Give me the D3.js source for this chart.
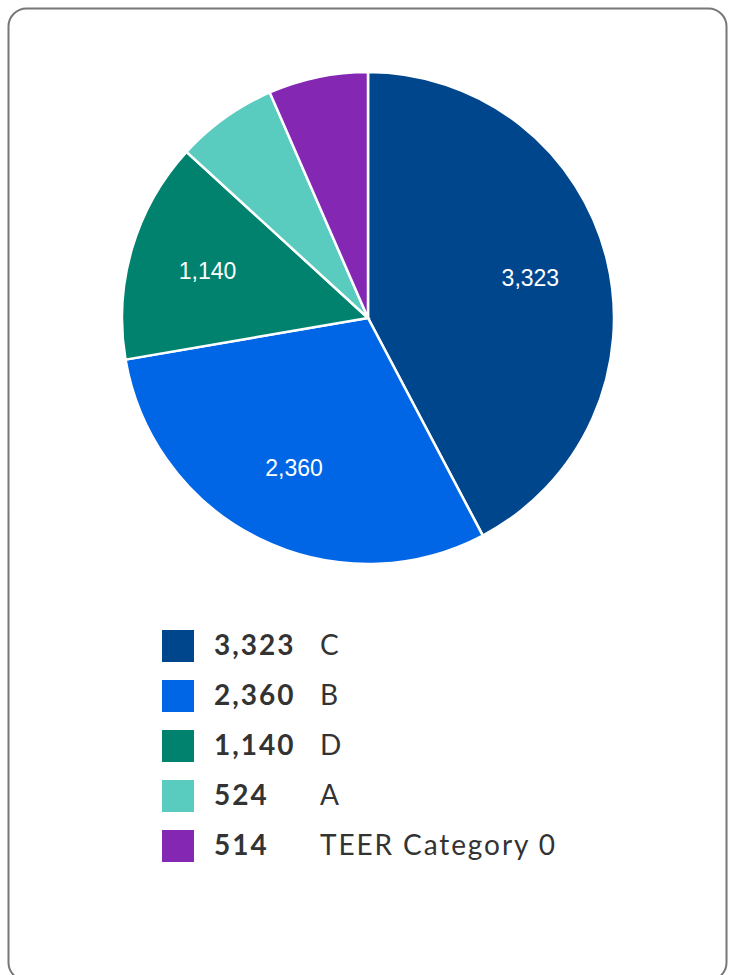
<!DOCTYPE html>
<html><head><meta charset="utf-8">
<script src="https://cdn.jsdelivr.net/npm/d3@7"></script>
<style>html,body{margin:0;padding:0;background:#fff;}svg{display:block;}</style>
</head><body>
<svg id="chart" width="734" height="975"></svg>
<script>
const categories = ["C", "B", "D", "A", "TEER Category 0"];
const values = [3323, 2360, 1140, 524, 514];
const colors = ["#00468c", "#0066e6", "#00826f", "#5acbbf", "#8428b4"];

const svg = d3.select("#chart");

svg.append("rect")
  .attr("x", 8.5).attr("y", 8.5)
  .attr("width", 718).attr("height", 972)
  .attr("rx", 18).attr("ry", 18)
  .attr("fill", "#fff").attr("stroke", "#777").attr("stroke-width", 2);

const cx = 368, cy = 318, R = 246;
const fmt = d3.format(",");
const data = categories.map((c, i) => ({cat: c, value: values[i], color: colors[i]}));

const pie = d3.pie().value(d => d.value).sort(null);
const arcs = pie(data);
const arc = d3.arc().innerRadius(0).outerRadius(R);
const labelArc = d3.arc().innerRadius(R * 0.68).outerRadius(R * 0.68);

const g = svg.append("g").attr("transform", `translate(${cx},${cy})`);
g.selectAll("path").data(arcs).join("path")
  .attr("d", arc)
  .attr("fill", d => d.data.color)
  .attr("stroke", "#fff").attr("stroke-width", 2.5);

g.selectAll("text").data(arcs.filter(d => d.data.value / d3.sum(values) > 0.1)).join("text")
  .attr("transform", d => `translate(${labelArc.centroid(d)})`)
  .attr("text-anchor", "middle").attr("dy", "0.36em")
  .attr("font-family", "Arial, 'Liberation Sans', sans-serif")
  .attr("font-size", 23)
  .attr("fill", "#fff")
  .text(d => fmt(d.data.value));

const lg = svg.append("g");
const y = d3.scaleBand().domain(categories).range([621, 871]);
const rows = lg.selectAll("g").data(data).join("g")
  .attr("transform", d => `translate(0,${y(d.cat) + y.bandwidth() / 2})`);
rows.append("rect").attr("x", 162).attr("y", -16).attr("width", 32).attr("height", 32)
  .attr("fill", d => d.color);
rows.append("text").attr("x", 214).attr("y", -1).attr("dy", "0.35em")
  .attr("font-family", "Lato, sans-serif").attr("font-weight", "bold").attr("font-size", 28)
  .attr("letter-spacing", 2).attr("fill", "#333").text(d => fmt(d.value));
rows.append("text").attr("x", 320).attr("y", -1).attr("dy", "0.35em")
  .attr("font-family", "Lato, sans-serif").attr("font-size", 28)
  .attr("letter-spacing", 1.9).attr("fill", "#333").text(d => d.cat);
</script>
</body></html>
